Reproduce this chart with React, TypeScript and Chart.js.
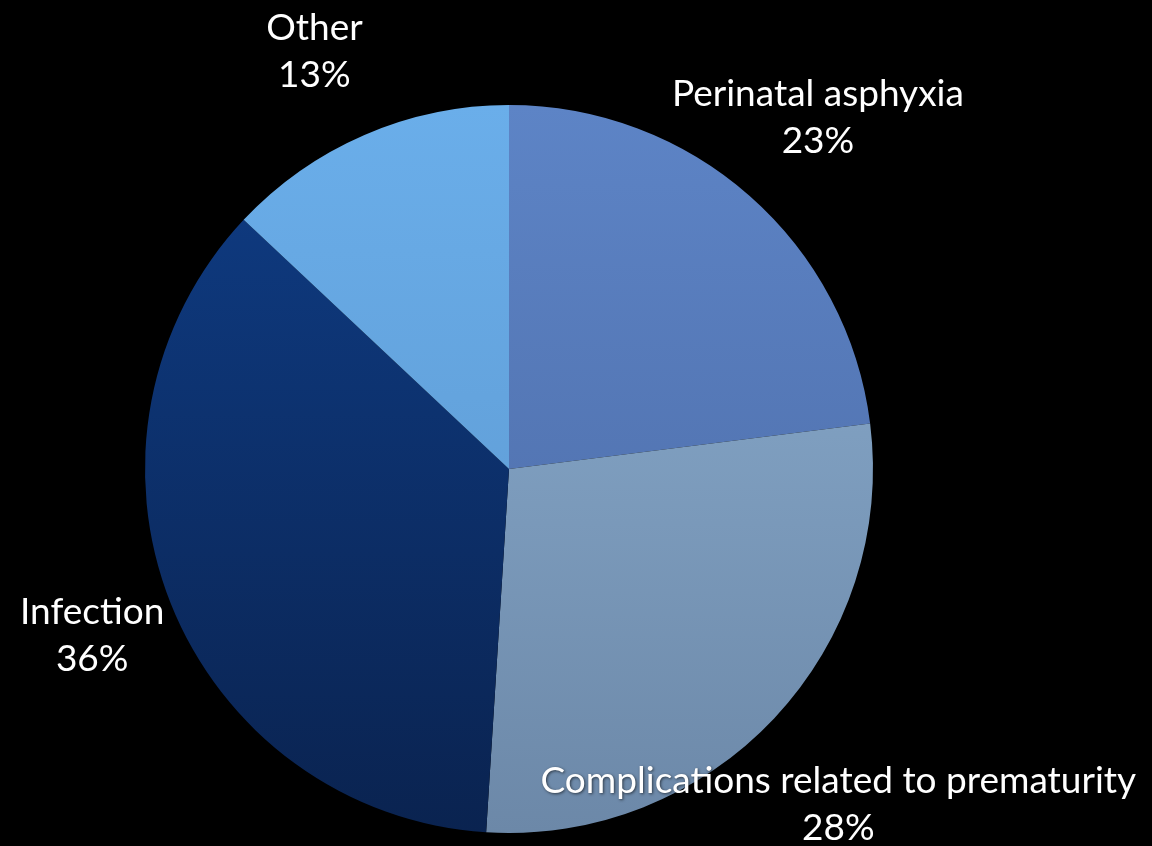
import React, { useEffect, useRef } from "react";
import { Chart, registerables } from "chart.js";

Chart.register(...registerables);

const categories = ["Perinatal asphyxia", "Complications related to prematurity", "Infection", "Other"];
const values = [23, 28, 36, 13];
const percentLabels = ["23%", "28%", "36%", "13%"];
const topColors = ["#5d84c6", "#8db0d2", "#0f3d86", "#6aaeea"];
const bottomColors = ["#4a68a2", "#6c88a8", "#0a2350", "#5b95cc"];
const labelDistance = [1.3, 1.26, 1.27, 1.27];
const labelShift = [
  [-4, 3],
  [-5, 21],
  [13, -4],
  [-11, 6],
];

const FONT = "Lato, 'Open Sans', sans-serif";

const labelPlugin = {
  id: "outerLabels",
  afterDatasetsDraw(chart: any) {
    const ctx = chart.ctx;
    const meta = chart.getDatasetMeta(0);
    ctx.save();
    ctx.font = `37px ${FONT}`;
    ctx.fillStyle = "#ffffff";
    ctx.textAlign = "center";
    ctx.textBaseline = "middle";
    ctx.shadowColor = "rgba(0,0,0,0.6)";
    ctx.shadowBlur = 3;
    ctx.shadowOffsetX = 1;
    ctx.shadowOffsetY = 1;
    meta.data.forEach((arc: any, i: number) => {
      const p = arc.getProps(["x", "y", "startAngle", "endAngle", "outerRadius"], true);
      const mid = (p.startAngle + p.endAngle) / 2;
      const d = p.outerRadius * labelDistance[i];
      const cx = p.x + Math.cos(mid) * d + labelShift[i][0];
      const cy = p.y + Math.sin(mid) * d + labelShift[i][1];
      ctx.fillText(categories[i], cx, cy - 23);
      ctx.fillText(percentLabels[i], cx, cy + 24);
    });
    ctx.restore();
  },
};

export default function App() {
  const ref = useRef<HTMLCanvasElement | null>(null);
  useEffect(() => {
    document.body.style.margin = "0";
    document.body.style.background = "#000";
    const canvas = ref.current!;
    const chart = new Chart(canvas, {
      type: "pie",
      data: {
        labels: categories,
        datasets: [
          {
            data: values,
            borderWidth: 0,
            backgroundColor: (c: any) => {
              const ch = c.chart;
              const area = ch.chartArea;
              if (!area) return topColors[c.dataIndex];
              const g = ch.ctx.createLinearGradient(0, area.top, 0, area.bottom);
              g.addColorStop(0, topColors[c.dataIndex]);
              g.addColorStop(1, bottomColors[c.dataIndex]);
              return g;
            },
          },
        ],
      },
      options: {
        animation: false,
        responsive: false,
        layout: { padding: { left: 145, right: 279, top: 105, bottom: 13 } },
        plugins: { legend: { display: false }, tooltip: { enabled: false } },
      },
      plugins: [labelPlugin],
    });
    return () => chart.destroy();
  }, []);
  return (
    <div style={{ position: "fixed", left: 0, top: 0, width: 1152, height: 846, background: "#000" }}>
      <canvas ref={ref} width={1152} height={846} style={{ display: "block", width: 1152, height: 846 }} />
    </div>
  );
}
